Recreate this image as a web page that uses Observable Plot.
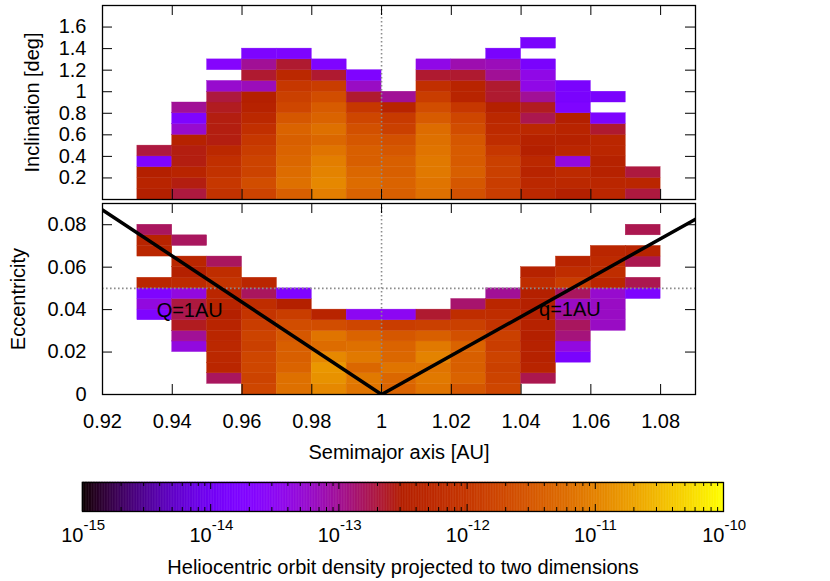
<!DOCTYPE html>
<html><head><meta charset="utf-8">
<script src="https://cdn.jsdelivr.net/npm/d3@7"></script>
<script src="https://cdn.jsdelivr.net/npm/@observablehq/plot@0.6"></script>
<style>
html,body{margin:0;padding:0;background:#fff;}
#fig{position:relative;width:830px;height:581px;overflow:hidden;}
#fig > svg{position:absolute;left:0;}
</style></head><body><div id="fig"></div>
<script>
// ---------------- data (log10 of density) ----------------
const aBins = [0.93,0.94,0.95,0.96,0.97,0.98,0.99,1.00,1.01,1.02,1.03,1.04,1.05,1.06,1.07];
const aStep = 0.01;
const incStep = 0.1;   // inclination bin [deg]
const eccStep = 0.005; // eccentricity bin

// inclination panel: one list per a-bin, rows from i=0 upward
const incColumns = [
  [-12.5,-12.4,-12.5,-13.75,-12.7],
  [-12.7,-12.55,-12.4,-12.55,-12.55,-12.45,-13.25,-13.75,-13.0],
  [-12.1,-12.0,-12.1,-12.15,-12.3,-12.55,-12.55,-12.55,-12.6,-12.7,-13.25,null,-13.65],
  [-11.8,-11.65,-11.8,-11.8,-11.9,-12.0,-12.15,-12.3,-12.45,-12.5,-13.15,-12.65,-13.0,-13.8],
  [-11.4,-11.2,-11.25,-11.3,-11.35,-11.4,-11.35,-11.5,-11.75,-11.85,-12.0,-12.3,-12.65,-13.8],
  [-11.05,-10.95,-11.0,-11.05,-11.15,-11.3,-11.2,-11.35,-11.45,-11.65,-11.9,-12.65,-13.75],
  [-11.35,-11.25,-11.3,-11.4,-11.4,-11.5,-11.6,-11.75,-12.0,-12.65,-13.2,-13.75],
  [-11.4,-11.35,-11.4,-11.4,-11.5,-11.6,-11.85,-11.95,-12.4,-13.0],
  [-11.2,-11.15,-11.1,-11.1,-11.15,-11.2,-11.25,-11.45,-11.65,-11.9,-12.15,-12.65,-13.4],
  [-11.6,-11.5,-11.4,-11.45,-11.45,-11.5,-11.65,-11.75,-12.0,-12.4,-12.4,-12.65,-13.1],
  [-11.9,-11.9,-11.85,-11.85,-12.0,-12.2,-12.25,-12.3,-12.5,-12.65,-12.65,-13.0,-13.15,-13.85],
  [-12.3,-12.3,-12.4,-12.3,-12.5,-12.45,-12.3,-12.75,-12.6,-13.0,-13.4,-13.4,-13.85,null,-13.85],
  [-12.5,-12.3,-12.25,-13.35,-12.35,-12.45,-12.4,-12.5,-13.75,-13.85,-13.85],
  [-12.35,-12.35,-12.45,-12.45,-12.35,-12.35,-12.65,-13.8,null,-13.85],
  [-12.7,-12.35,-12.7]
];

// eccentricity panel: one list per a-bin, rows from e=0 upward
const eccColumns = [
  [null,null,null,null,null,null,null,-13.75,-13.35,-13.75,-12.35,null,null,-12.35,-12.4,-12.8],
  [null,null,null,null,-13.35,-13.0,-12.6,-12.75,-12.7,-13.35,-12.25,-12.5,-12.35,null,-12.8],
  [null,-12.8,-12.35,-12.3,-12.3,-12.35,-12.4,-12.5,-12.4,-12.35,-12.05,-12.2,-12.8],
  [-11.75,-11.8,-11.75,-11.75,-11.85,-11.8,-11.9,-12.05,-12.2,-12.8,-12.35],
  [-11.2,-11.2,-11.35,-11.4,-11.4,-11.5,-11.65,-11.9,-12.5,-13.75],
  [-10.95,-10.85,-10.8,-10.95,-11.25,-11.15,-11.65,-12.4],
  [-11.15,-11.1,-11.3,-11.1,-11.2,-11.35,-11.75,-13.5],
  [-11.35,-11.3,-11.15,-11.3,-11.35,-11.5,-11.9,-13.5],
  [-11.15,-11.1,-11.15,-11.0,-11.1,-11.4,-11.85,-12.65],
  [-11.5,-11.35,-11.4,-11.4,-11.35,-11.6,-11.85,-12.2,-12.85],
  [-11.75,-11.8,-11.85,-11.8,-11.9,-11.85,-12.05,-12.2,-12.35,-13.0],
  [null,-12.75,-12.4,-12.45,-12.45,-12.5,-12.45,-12.5,-12.5,-12.5,-12.2,-12.45],
  [null,null,null,-13.85,-13.35,-12.9,-12.8,-13.0,-13.2,-12.8,-11.9,-12.2,-12.4],
  [null,null,null,null,null,null,-13.2,-13.2,-13.2,-13.25,-12.35,-12.2,-12.25,-12.35],
  [null,null,null,null,null,null,null,null,null,-13.8,-12.75,null,-12.75,-12.4,null,-12.75]
];

// Q=1AU / q=1AU boundary
const boundA = [0.92, 1.00, 1.09];
const boundE = [0.087, 0.0, 0.0826];
const boundLabels = ["Q=1AU", "q=1AU"];
const boundLabelA = [0.945, 1.054];
const boundLabelE = [0.0396, 0.0402];

const xTicks = [0.92,0.94,0.96,0.98,1.00,1.02,1.04,1.06,1.08];
const incTicks = [0.2,0.4,0.6,0.8,1.0,1.2,1.4,1.6];
const eccTicks = [0,0.02,0.04,0.06,0.08];
const cbDecades = [1e-15,1e-14,1e-13,1e-12,1e-11,1e-10];
const eLimit = 0.05;

// ---------------- helpers ----------------
const FONT = '"Liberation Sans", Arial, Helvetica, sans-serif';
const FS = 20;
const fmt = d3.format("~g");
function gp(t){ // gnuplot rgbformulae 7,5,15
  t = Math.max(0, Math.min(1, t));
  const r = Math.sqrt(t), g = t*t*t, b = Math.max(0, Math.sin(2*Math.PI*t));
  return `rgb(${Math.round(255*r)},${Math.round(255*g)},${Math.round(255*b)})`;
}
const colorOpt = {type:"log", domain:[1e-15,1e-10], interpolate: gp, clamp:true};
const style = {fontFamily: FONT, fontSize: FS+"px", background:"transparent", overflow:"visible", color:"black"};
const dotted = {stroke:"#8c8c8c", strokeWidth:1.6, strokeDasharray:"1.6,2.4"};

const incCells = [];
aBins.forEach((a,j)=>incColumns[j].forEach((v,k)=>{ if(v!=null) incCells.push({a, y:k*incStep, d:10**v}); }));
const eccCells = [];
aBins.forEach((a,j)=>eccColumns[j].forEach((v,k)=>{ if(v!=null) eccCells.push({a, y:k*eccStep, d:10**v}); }));
const bound = boundA.map((a,i)=>({a, e:boundE[i]}));
const blabels = boundLabels.map((t,i)=>({t, a:boundLabelA[i], e:boundLabelE[i]}));

const W = 830, L = 102, R = 135, TICK = 10;
const fw = W - L - R;

function gridMarks(cells, step, fh, yTicks){
  return [
    Plot.rect(cells, {x1:"a", x2:d=>d.a+aStep, y1:"y", y2:d=>d.y+step, fill:"d", stroke:"d", strokeWidth:0.4, inset:0}),
    Plot.ruleX([1], dotted),
    Plot.tickX(xTicks, {x:d=>d, insetBottom: fh-TICK, stroke:"black", strokeWidth:1}),
    Plot.tickX(xTicks, {x:d=>d, insetTop: fh-TICK, stroke:"black", strokeWidth:1}),
    Plot.tickY(yTicks, {y:d=>d, insetRight: fw-TICK, stroke:"black", strokeWidth:1}),
    Plot.tickY(yTicks, {y:d=>d, insetLeft: fw-TICK, stroke:"black", strokeWidth:1}),
    Plot.text(yTicks, {y:d=>d, text:d=>fmt(d), frameAnchor:"left", textAnchor:"end", dx:-16, lineAnchor:"middle", fontSize:FS, fill:"black"})
  ];
}

// ---------------- top panel ----------------
const fh1 = 194;
const p1 = Plot.plot({
  width:W, height:200, marginLeft:L, marginRight:R, marginTop:5, marginBottom:1,
  x:{domain:[0.92,1.09], axis:null}, y:{domain:[0,1.8], axis:null},
  color: colorOpt, style,
  marks:[
    ...gridMarks(incCells, incStep, fh1, incTicks),
    Plot.text(["Inclination [deg]"], {frameAnchor:"left", rotate:-90, dx:-70, textAnchor:"middle", lineAnchor:"middle", fontSize:FS, fill:"black"}),
    Plot.frame({stroke:"black", strokeWidth:1.3})
  ]
});
p1.style.top = "0px";

// ---------------- bottom panel ----------------
const fh2 = 191;
const p2 = Plot.plot({
  width:W, height:270, marginLeft:L, marginRight:R, marginTop:3, marginBottom:76,
  x:{domain:[0.92,1.09], axis:null}, y:{domain:[0,0.09], axis:null},
  color: colorOpt, style,
  marks:[
    ...gridMarks(eccCells, eccStep, fh2, eccTicks),
    Plot.ruleY([eLimit], dotted),
    Plot.line(bound, {x:"a", y:"e", stroke:"black", strokeWidth:3.5, clip:true}),
    Plot.text(blabels, {x:"a", y:"e", text:"t", fontSize:FS, fill:"black", lineAnchor:"middle"}),
    Plot.text(xTicks, {x:d=>d, text:d=>fmt(d), frameAnchor:"bottom", dy:27, lineAnchor:"middle", fontSize:FS, fill:"black"}),
    Plot.text(["Semimajor axis [AU]"], {frameAnchor:"bottom", dy:58, lineAnchor:"middle", fontSize:FS, fill:"black"}),
    Plot.text(["Eccentricity"], {frameAnchor:"left", rotate:-90, dx:-84, textAnchor:"middle", lineAnchor:"middle", fontSize:FS, fill:"black"}),
    Plot.frame({stroke:"black", strokeWidth:1.3})
  ]
});
p2.style.top = "200px";

// ---------------- colour bar ----------------
const samples = d3.range(0, 400).map(i=>({lo:10**(-15+i/80), hi:10**(-15+(i+1)/80), mid:10**(-15+(i+0.5)/80)}));
const minor = [];
cbDecades.slice(0,-1).forEach(d=>{ for(let k=2;k<10;k++) minor.push(d*k); });
const bh = 29;
const p3 = Plot.plot({
  width:W, height:111, marginLeft:82, marginRight:107, marginTop:12, marginBottom:70,
  x:{type:"log", domain:[1e-15,1e-10], axis:null}, y:{axis:null},
  color: colorOpt, style,
  marks:[
    Plot.rect(samples, {x1:"lo", x2:"hi", fill:"mid", stroke:"mid", strokeWidth:0.5}),
    Plot.tickX(cbDecades, {x:d=>d, insetBottom:bh-7, stroke:"black"}),
    Plot.tickX(cbDecades, {x:d=>d, insetTop:bh-7, stroke:"black"}),
    Plot.tickX(minor, {x:d=>d, insetBottom:bh-4, stroke:"black"}),
    Plot.tickX(minor, {x:d=>d, insetTop:bh-4, stroke:"black"}),
    Plot.text(cbDecades, {x:d=>d, text:()=>"10", frameAnchor:"bottom", dy:24, dx:1, textAnchor:"end", lineAnchor:"middle", fontSize:FS, fill:"black"}),
    Plot.text(cbDecades, {x:d=>d, text:d=>String(Math.round(Math.log10(d))), frameAnchor:"bottom", dy:14, dx:1, textAnchor:"start", lineAnchor:"middle", fontSize:15, fill:"black"}),
    Plot.text(["Heliocentric orbit density projected to two dimensions"], {frameAnchor:"bottom", dy:56, lineAnchor:"middle", fontSize:FS, fill:"black"}),
    Plot.frame({stroke:"black", strokeWidth:1.3})
  ]
});
p3.style.top = "470px";

const fig = document.getElementById("fig");
fig.append(p1, p2, p3);
</script></body></html>
